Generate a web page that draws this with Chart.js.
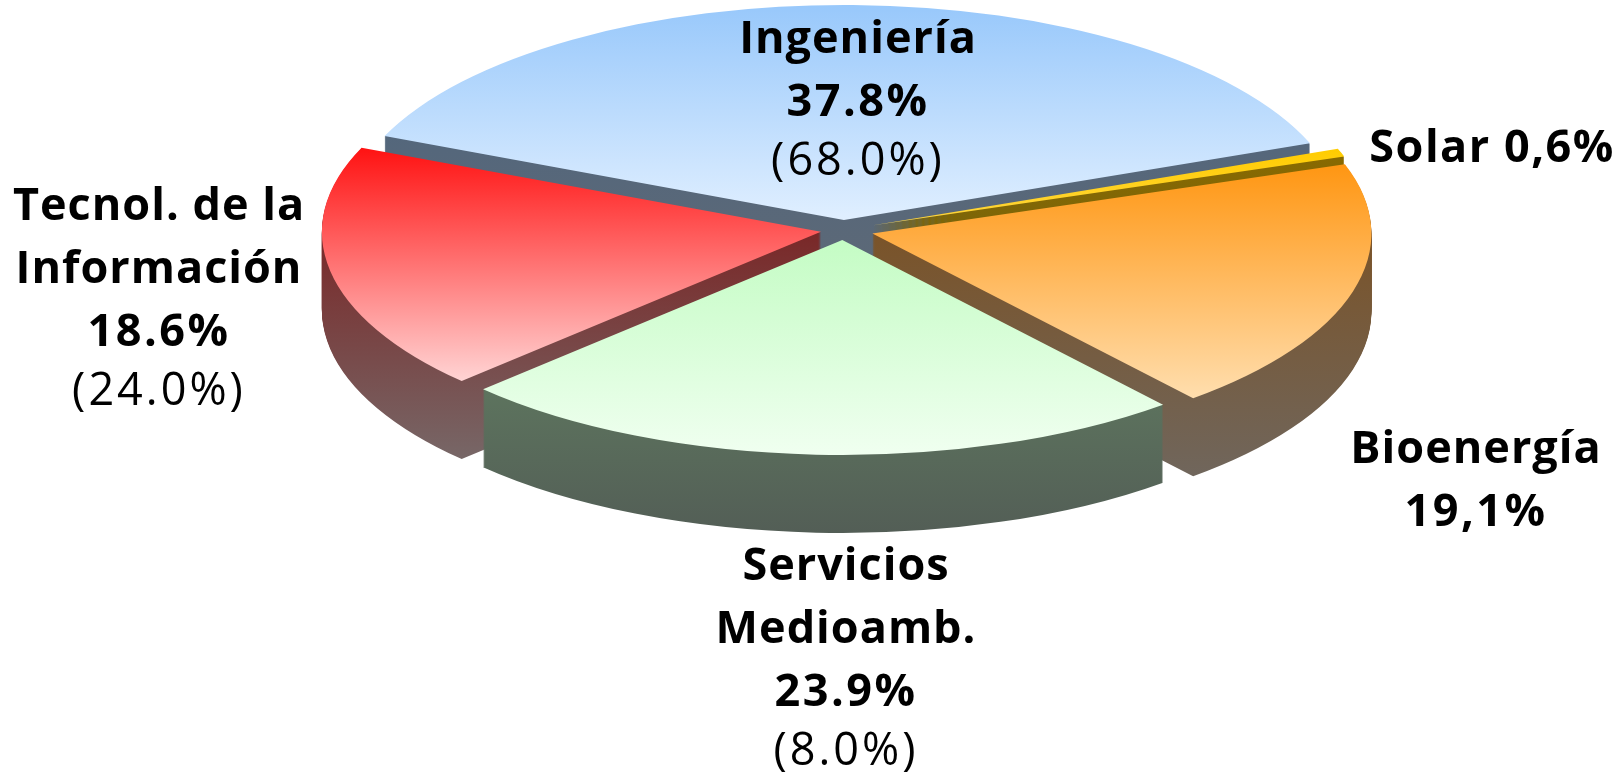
<!DOCTYPE html>
<html>
<head>
<meta charset="utf-8">
<script src="https://cdn.jsdelivr.net/npm/chart.js@4/dist/chart.umd.min.js"></script>
<style>
  html, body { margin: 0; padding: 0; background: #fff; }
  canvas { display: block; }
</style>
</head>
<body>
<canvas id="pie" width="1623" height="779"></canvas>
<script>
// data
const categories = ["Ingeniería", "Solar", "Bioenergía", "Servicios Medioamb.", "Tecnol. de la Información"];
const shares = [37.8, 0.6, 19.1, 23.9, 18.6];
const priorShares = [68.0, null, null, 8.0, 24.0]; // value shown in brackets
const decimalMarks = [".", ",", ",", ".", "."];

// look
const topFrom = ["#98c8fb", "#ffcc00", "#ff9612", "#c4fcc4", "#ff1212"];
const topTo = ["#e0efff", "#ffd640", "#ffdeae", "#f0fff0", "#ffd4d4"];
const sideFrom = ["#4c6580", "#8a6a00", "#7d4e1a", "#678a66", "#7a1010"];
const sideTo = ["#5e6976", "#6e6010", "#70665c", "#535e56", "#776767"];
const explode = [23, 30, 30, 23, 23];
const drawOrder = [0, 1, 4, 2, 3];
const tilt = 0.431;   // vertical squash of the disc
const depth = 78;     // thickness in screen px

// label placement: x centre, first baseline
const labelSpots = [
  { x: 858, y: 53 },
  { x: 1492, y: 162, inline: true },
  { x: 1476, y: 463 },
  { x: 846, y: 580 },
  { x: 159, y: 220 }
];
const lineGap = 63;

function mix(a, b, t) {
  const pa = parseInt(a.slice(1), 16), pb = parseInt(b.slice(1), 16);
  const r = Math.round(((pa >> 16) & 255) * (1 - t) + ((pb >> 16) & 255) * t);
  const g = Math.round(((pa >> 8) & 255) * (1 - t) + ((pb >> 8) & 255) * t);
  const bl = Math.round((pa & 255) * (1 - t) + (pb & 255) * t);
  return `rgb(${r},${g},${bl})`;
}

function yRange(arc) {
  let lo = arc.y, hi = arc.y;
  const n = 60;
  for (let s = 0; s <= n; s++) {
    const a = arc.startAngle + (arc.endAngle - arc.startAngle) * s / n;
    const y = arc.y + Math.sin(a) * arc.outerRadius;
    lo = Math.min(lo, y);
    hi = Math.max(hi, y);
  }
  return [lo, hi];
}

function paintArc(ctx, arc, fill) {
  const saved = arc.options;
  arc.options = Object.assign({}, saved, { backgroundColor: fill, borderWidth: 0 });
  arc.draw(ctx);
  arc.options = saved;
}

const pie3d = {
  id: "pie3d",
  beforeDatasetsDraw(chart) {
    const ctx = chart.ctx;
    const arcs = chart.getDatasetMeta(0).data;
    const cy = arcs[0].y;
    const ds = depth / tilt;
    ctx.save();
    ctx.translate(0, cy);
    ctx.scale(1, tilt);
    ctx.translate(0, -cy);
    drawOrder.forEach(i => {
      const arc = arcs[i];
      const mid = (arc.startAngle + arc.endAngle) / 2;
      const [lo, hi] = yRange(arc);
      ctx.save();
      ctx.translate(Math.cos(mid) * explode[i], Math.sin(mid) * explode[i]);
      // side walls
      for (let d = depth; d >= 1; d--) {
        const t = d / tilt;
        ctx.save();
        ctx.translate(0, t);
        const g = ctx.createLinearGradient(0, lo - t, 0, hi + ds - t);
        g.addColorStop(0, sideFrom[i]);
        g.addColorStop(1, sideTo[i]);
        paintArc(ctx, arc, g);
        ctx.restore();
      }
      // top face
      const g = ctx.createLinearGradient(0, lo, 0, hi);
      g.addColorStop(0, topFrom[i]);
      g.addColorStop(1, topTo[i]);
      paintArc(ctx, arc, g);
      ctx.restore();
    });
    ctx.restore();
    return false;
  }
};

const pieLabels = {
  id: "pieLabels",
  afterDraw(chart) {
    const ctx = chart.ctx;
    ctx.save();
    ctx.textAlign = "center";
    ctx.textBaseline = "alphabetic";
    ctx.fillStyle = "#000";
    categories.forEach((name, i) => {
      const spot = labelSpots[i];
      const pct = shares[i].toFixed(1).replace(".", decimalMarks[i]) + "%";
      let y = spot.y;
      if (spot.inline) {
        ctx.font = 'bold 45px "Open Sans"';
        ctx.letterSpacing = "1.5px";
        ctx.fillText(name + " " + pct, spot.x, y);
        return;
      }
      const words = name === "Servicios Medioamb." ? ["Servicios", "Medioamb."]
        : name === "Tecnol. de la Información" ? ["Tecnol. de la", "Información"] : [name];
      ctx.font = 'bold 45px "Open Sans"';
      ctx.letterSpacing = "1px";
      words.forEach(w => { ctx.fillText(w, spot.x, y); y += lineGap; });
      ctx.letterSpacing = "2.5px";
      ctx.fillText(pct, spot.x, y);
      y += lineGap;
      if (priorShares[i] != null) {
        ctx.font = '45px "Open Sans"';
        ctx.letterSpacing = "3px";
        ctx.fillText("(" + priorShares[i].toFixed(1) + "%)", spot.x, y - 4);
      }
    });
    ctx.restore();
  }
};

new Chart(document.getElementById("pie").getContext("2d"), {
  type: "pie",
  data: {
    labels: categories,
    datasets: [{
      data: shares,
      backgroundColor: topFrom,
      borderWidth: 0
    }]
  },
  options: {
    responsive: false,
    animation: false,
    events: [],
    rotation: -67,
    radius: 499,
    layout: { padding: { left: 64, right: 0, top: 0, bottom: 319 } },
    plugins: {
      legend: { display: false },
      tooltip: { enabled: false }
    }
  },
  plugins: [pie3d, pieLabels]
});
</script>
</body>
</html>
